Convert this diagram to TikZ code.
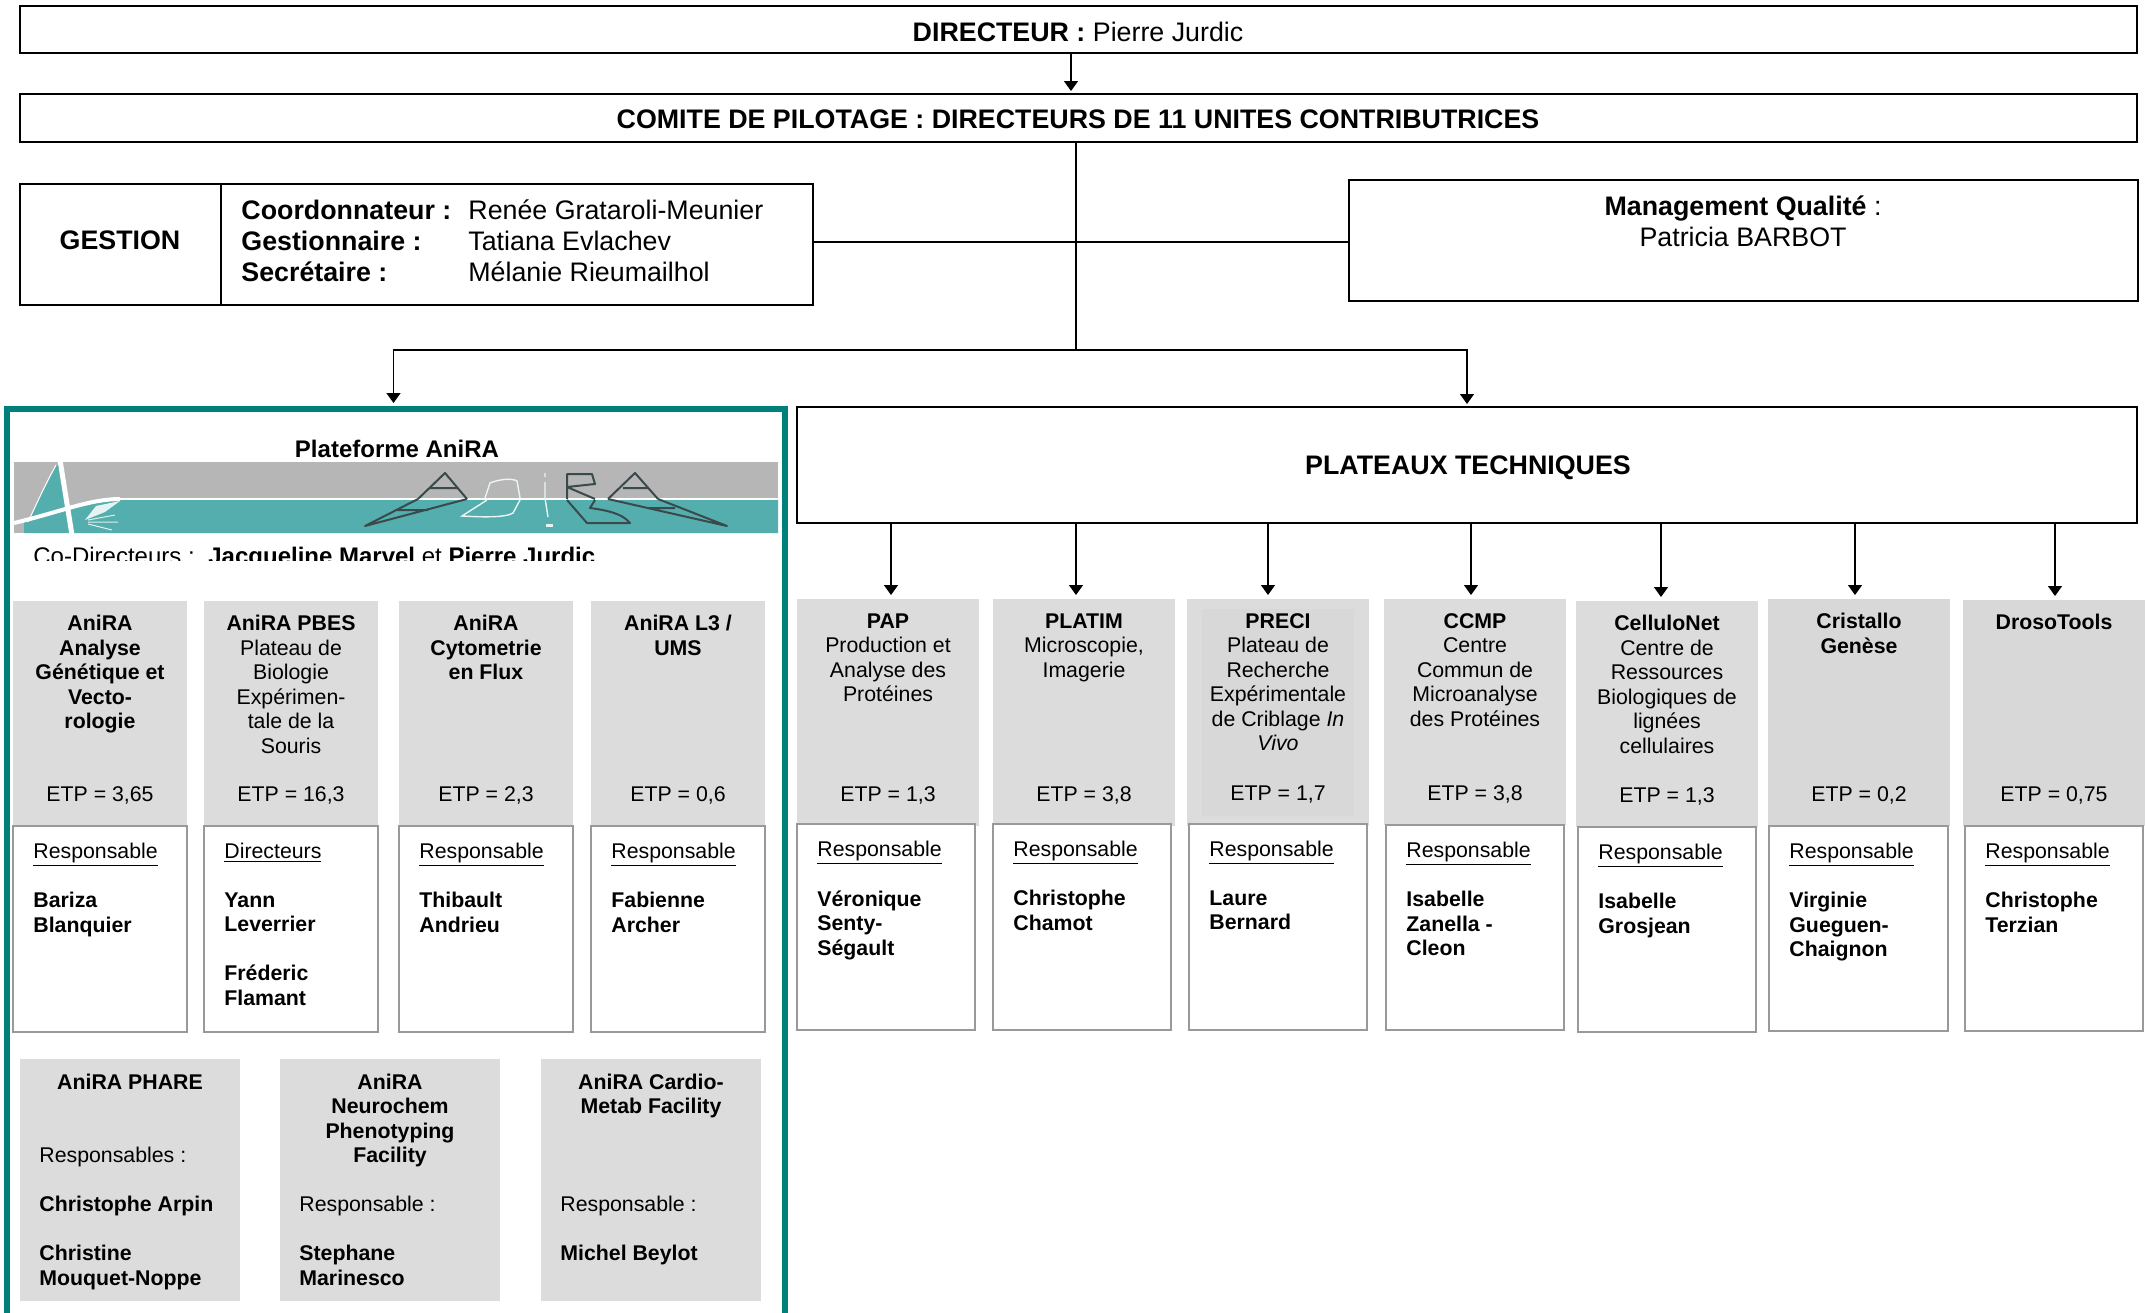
\documentclass[tikz,border=0pt]{standalone}
\usepackage{fontspec}
\setmainfont{Liberation Sans}
\usetikzlibrary{arrows.meta}
\usetikzlibrary{calc}

\definecolor{cadreteal}{HTML}{00807A}
\definecolor{logoteal}{HTML}{55AEAE}
\definecolor{logogris}{HTML}{B6B6B6}
\definecolor{logonoir}{HTML}{3A4A4C}
\definecolor{cartegris}{HTML}{DCDCDC}
\definecolor{cartefonce}{HTML}{D8D8D8}

\tikzset{
  >={Triangle[length=5pt,width=7pt]},
  txt/.style={font=\fontsize{10.65}{12.25}\selectfont,inner sep=0pt,align=center},
  txtg/.style={txt,align=left},
  txtb/.style={font=\fontsize{10.65}{12.25}\selectfont\bfseries,inner sep=0pt,align=left},
  grand/.style={font=\fontsize{13.4}{15.5}\selectfont,inner sep=0pt,align=center},
  noire/.style={draw=black,line width=1pt,fill=white,inner sep=0pt,outer sep=0pt},
  grise/.style={fill=cartegris,inner sep=0pt,outer sep=0pt},
  fonce/.style={fill=cartefonce,inner sep=0pt,outer sep=0pt},
  blanche/.style={draw=black!40,line width=.9pt,fill=white,inner sep=0pt,outer sep=0pt},
  lien/.style={line width=.75pt},
  fleche/.style={lien,->,shorten >=2pt},
  lettre/.style={draw=logonoir,line width=1pt},
  lettreb/.style={draw=white!88!logoteal,line width=.7pt}
}

% rectangle given by its corners, in pixels of the scan
\newcommand{\boite}[6]{\node[#1,minimum width={(#5-#3)*.5pt},minimum height={(#6-#4)*.5pt}] (#2) at ({(#3+#5)/2},{(#4+#6)/2}) {};}
% grey head of a card
\newcommand{\carte}[8]{
  \boite{#8}{#1-t}{#2}{#4}{#3}{#5}
  \node[txt,anchor=north] (#1-n) at ([yshift=-7pt]#1-t.north) {#6};
  \node[txt] (#1-e) at ([yshift=15.5pt]#1-t.south) {ETP = #7};
}
% white foot of a card
\newcommand{\pied}[7]{
  \boite{blanche}{#1-b}{#2}{#4}{#3}{#5}
  \node[txtg,anchor=north west] (#1-r) at ([xshift=10pt,yshift=-8.3pt]#1-b.north west) {\underline{#6}};
  \node[txtb,anchor=north west] (#1-m) at ([xshift=10pt,yshift=-33pt]#1-b.north west) {#7};
}
% lower cards of the platform
\newcommand{\module}[6]{
  \boite{grise}{#1-t}{#2}{1059}{#3}{1301}
  \node[txt,anchor=north] (#1-n) at ([yshift=-7.3pt]#1-t.north) {#4};
  \node[txtg,anchor=north west] (#1-r) at (#2+19,#5) {#6};
}

\begin{document}
\begin{tikzpicture}[x=.5pt,y=-.5pt]
  \useasboundingbox (0,0) rectangle (2145,1312);

  \boite{noire}{dir}{20}{6}{2137}{53}
  \node[grand] (dir-n) at (1078,31.5) {\textbf{DIRECTEUR :} Pierre Jurdic};
  \boite{noire}{comite}{20}{94}{2137}{142}
  \node[grand] (comite-n) at (1078,119.5) {\textbf{COMITE DE PILOTAGE : DIRECTEURS DE 11 UNITES CONTRIBUTRICES}};

  \boite{noire}{gest-g}{20}{184}{221}{305}
  \boite{noire}{gest-d}{221}{184}{813}{305}
  \node[grand] (gest-n) at (120,240) {\textbf{GESTION}};
  \node[grand,align=left,anchor=west] (gest-f) at (241,241) {\textbf{Coordonnateur :}\\\textbf{Gestionnaire :}\\\textbf{Secrétaire :}};
  \node[grand,align=left,anchor=west] (gest-p) at (468,241) {Renée Grataroli-Meunier\\Tatiana Evlachev\\Mélanie Rieumailhol};

  \boite{noire}{qual}{1349}{180}{2138}{301}
  \node[grand,anchor=north] (qual-n) at (1743,195) {\textbf{Management Qualité} :\\Patricia BARBOT};

  \boite{noire}{plat}{797}{407}{2137}{523}
  \node[grand] (plat-n) at (1468,467.5) {\textbf{PLATEAUX TECHNIQUES}};

  \boite{draw=cadreteal,line width=3pt,inner sep=0pt,outer sep=0pt}{anira}{6.5}{409}{785}{1335}
  \node[txt,font=\fontsize{12}{14}\selectfont\bfseries] (anira-n) at (397,449) {Plateforme AniRA};

  % logo
  \begin{scope}
    \clip (14,462) rectangle (778,533);
    \fill[logogris] (14,462) rectangle (778,533);
    \fill[logoteal] (778,499) -- (120,499) .. controls (95,500) and (70,508) .. (24,522) -- (24,533) -- (778,533) -- cycle;
    \fill[logoteal] (57,465) .. controls (45,485) and (36,505) .. (28,522) -- (70,512) -- (60,465) -- cycle;
    \draw[white,line width=1pt] (120,499) -- (778,499);
    \draw[white,line width=2pt] (14,523) .. controls (60,512) and (90,499) .. (120,499);
    \draw[white,line width=2.5pt] (60,460) -- (72,535);
    \draw[white,line width=.5pt] (56,465) .. controls (45,485) and (36,505) .. (28,522);
    \fill[white!85!logoteal] (120,501) -- (96,506) -- (85,520) -- (105,512) -- cycle;
    \draw[white!80!logoteal,line width=.5pt] (88,520) -- (115,515) (88,522) -- (118,522) (88,524) -- (112,530);
    % letters and their reflections
    \draw[lettre,line join=round] (418,499) -- (445,473) -- (467,499) (430,488) -- (458,488);
    \draw[lettre,line join=round] (418,499) -- (365,526) -- (467,499) (397,510) -- (428,510);
    \draw[lettreb] (485,498) -- (490,483) .. controls (500,479) and (512,478) .. (517,481) -- (520,498);
    \draw[lettreb] (487,500) -- (462,516) .. controls (480,517) and (505,518) .. (513,513) -- (520,500);
    \draw[lettreb] (545,473) -- (545,477) (545,482) -- (545,498) -- (548,517);
    \fill[white!85!logoteal] (546,524) rectangle (553,527);
    \draw[lettre,line join=round] (567,499) -- (567,474) -- (592,474) -- (595,484) -- (567,487) -- (595,499);
    \draw[lettre,line join=round] (567,500) -- (587,523) -- (630,523) .. controls (622,513) and (605,510) .. (590,508) -- (595,500);
    \draw[lettre,line join=round] (608,499) -- (635,473) -- (658,499) (623,488) -- (648,488);
    \draw[lettre,line join=round] (608,499) -- (727,526) -- (658,499) (647,508) -- (675,508);
  \end{scope}

  \begin{scope}
    \clip (14,536) rectangle (778,560);
    \node[txt,font=\fontsize{12}{14}\selectfont,anchor=base west] (codir) at (33,564) {Co-Directeurs :};
    \node[txt,font=\fontsize{12}{14}\selectfont,anchor=base west] (codir-n) at (208,564) {\textbf{Jacqueline Marvel} et \textbf{Pierre Jurdic}};
  \end{scope}

  % platform
  \carte{gen}{13}{187}{601}{826}{\textbf{AniRA}\\\textbf{Analyse}\\\textbf{Génétique et}\\\textbf{Vecto-}\\\textbf{rologie}}{3,65}{grise}
  \pied{gen}{13}{187}{826}{1032}{Responsable}{Bariza\\Blanquier}
  \carte{pbes}{204}{378}{601}{826}{\textbf{AniRA PBES}\\Plateau de\\Biologie\\Expérimen-\\tale de la\\Souris}{16,3}{grise}
  \pied{pbes}{204}{378}{826}{1032}{Directeurs}{Yann\\Leverrier\\[12.25pt]Fréderic\\Flamant}
  \carte{cyto}{399}{573}{601}{826}{\textbf{AniRA}\\\textbf{Cytometrie}\\\textbf{en Flux}}{2,3}{grise}
  \pied{cyto}{399}{573}{826}{1032}{Responsable}{Thibault\\Andrieu}
  \carte{ums}{591}{765}{601}{826}{\textbf{AniRA L3 /}\\\textbf{UMS}}{0,6}{grise}
  \pied{ums}{591}{765}{826}{1032}{Responsable}{Fabienne\\Archer}

  \module{phare}{20}{240}{\textbf{AniRA PHARE}}{1147}{Responsables :\\[12.25pt]\textbf{Christophe Arpin}\\[12.25pt]\textbf{Christine}\\\textbf{Mouquet-Noppe}}
  \module{neuro}{280}{500}{\textbf{AniRA}\\\textbf{Neurochem}\\\textbf{Phenotyping}\\\textbf{Facility}}{1196}{Responsable :\\[12.25pt]\textbf{Stephane}\\\textbf{Marinesco}}
  \module{cardio}{541}{761}{\textbf{AniRA Cardio-}\\\textbf{Metab Facility}}{1196}{Responsable :\\[12.25pt]\textbf{Michel Beylot}}

  % plateaux
  \carte{pap}{797}{979}{599}{826}{\textbf{PAP}\\Production et\\Analyse des\\Protéines}{1,3}{grise}
  \pied{pap}{797}{975}{824}{1030}{Responsable}{Véronique\\Senty-\\Ségault}
  \carte{platim}{993}{1175}{599}{826}{\textbf{PLATIM}\\Microscopie,\\Imagerie}{3,8}{grise}
  \pied{platim}{993}{1171}{824}{1030}{Responsable}{Christophe\\Chamot}
  \boite{grise}{preci-t}{1187}{599}{1369}{826}
  \boite{fonce}{preci-i}{1202}{609}{1354}{816}
  \node[txt,anchor=north] (preci-n) at ([yshift=-7pt]preci-t.north) {\textbf{PRECI}\\Plateau de\\Recherche\\Expérimentale\\de Criblage \textit{In}\\\textit{Vivo}};
  \node[txt] (preci-e) at ([yshift=15.5pt]preci-t.south) {ETP = 1,7};
  \pied{preci}{1189}{1367}{824}{1030}{Responsable}{Laure\\Bernard}
  \carte{ccmp}{1384}{1566}{599}{825}{\textbf{CCMP}\\Centre\\Commun de\\Microanalyse\\des Protéines}{3,8}{grise}
  \pied{ccmp}{1386}{1564}{825}{1030}{Responsable}{Isabelle\\Zanella -\\Cleon}
  \carte{cellu}{1576}{1758}{601}{827}{\textbf{CelluloNet}\\Centre de\\Ressources\\Biologiques de\\lignées\\cellulaires}{1,3}{grise}
  \pied{cellu}{1578}{1756}{827}{1032}{Responsable}{Isabelle\\Grosjean}
  \carte{crist}{1768}{1950}{599}{826}{\textbf{Cristallo}\\\textbf{Genèse}}{0,2}{fonce}
  \pied{crist}{1769}{1948}{826}{1031}{Responsable}{Virginie\\Gueguen-\\Chaignon}
  \carte{droso}{1963}{2145}{600}{826}{\textbf{DrosoTools}}{0,75}{fonce}
  \pied{droso}{1965}{2143}{826}{1031}{Responsable}{Christophe\\Terzian}

  % connectors
  \coordinate (dirbas) at (1071,53);
  \coordinate (jonc) at (1076,242);
  \coordinate (bus) at (1076,350);
  \coordinate (anira-f) at (393.5,409);
  \draw[fleche,shorten >=1.5pt] (dirbas) -- (dirbas |- comite.north);
  \draw[lien] (comite.south -| bus) -- (bus);
  \draw[lien] (gest-d.east |- jonc) -- (qual.west |- jonc);
  \draw[fleche,shorten >=3pt] (bus) -| (anira-f);
  \draw[fleche,shorten >=1.5pt] (bus) -| (plat.north);
  \foreach \nom/\xf in {pap/891,platim/1076,preci/1268,ccmp/1471,cellu/1661,crist/1855,droso/2055}{
    \coordinate (f-\nom) at (\xf,523);
    \draw[fleche] (f-\nom) -- (f-\nom |- \nom-t.north);
  }
\end{tikzpicture}
\end{document}
